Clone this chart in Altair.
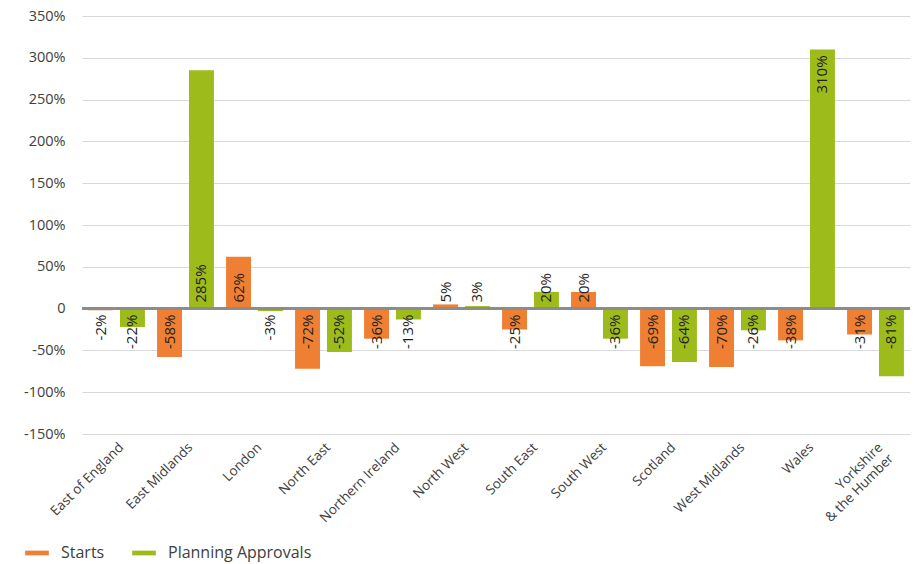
import altair as alt
import pandas as pd

regions = ["East of England", "East Midlands", "London", "North East", "Northern Ireland",
           "North West", "South East", "South West", "Scotland", "West Midlands", "Wales",
           "Yorkshire & the Humber"]
starts = [-2, -58, 62, -72, -36, 5, -25, 20, -69, -70, -38, -31]
approvals = [-22, 285, -3, -52, -13, 3, 20, -36, -64, -26, 310, -81]
series_names = ["Starts", "Planning Approvals"]
colors = ["#ee7f33", "#9dbb1a"]
y_ticks = [-150, -100, -50, 0, 50, 100, 150, 200, 250, 300, 350]

rows = []
for r, s, a in zip(regions, starts, approvals):
    rows.append({"region": r, "series": "Starts", "value": s})
    rows.append({"region": r, "series": "Planning Approvals", "value": a})
df = pd.DataFrame(rows)
df["label"] = df["value"].astype(int).astype(str) + "%"

FONT = "Open Sans"

x_enc = alt.X("region:N", sort=regions, title=None,
              scale=alt.Scale(paddingInner=0, paddingOuter=0),
              axis=alt.Axis(labelAngle=-45, labelAlign="right", labelBaseline="top",
                            labelPadding=6, ticks=False, domain=False, grid=False,
                            labelFontSize=13.5, labelColor="#404040", labelFont=FONT,
                            labelExpr="datum.label == 'Yorkshire & the Humber' ? ['Yorkshire', '& the Humber'] : datum.label"))
xoff = alt.XOffset("series:N", sort=series_names,
                   scale=alt.Scale(paddingInner=0.22, paddingOuter=0.19))
y_scale = alt.Scale(domain=[-150, 350], nice=False, zero=False)

base = alt.Chart(df)

bars = base.mark_bar().encode(
    x=x_enc,
    xOffset=xoff,
    y=alt.Y("value:Q", scale=y_scale, title=None,
            axis=alt.Axis(values=y_ticks, grid=True, gridColor="#d9d9d9", gridWidth=1,
                          ticks=False, domain=False, labelPadding=17,
                          labelFontSize=14.5, labelColor="#404040", labelFont=FONT,
                          labelExpr="datum.value == 0 ? '0' : datum.value + '%'")),
    color=alt.Color("series:N", sort=series_names,
                    scale=alt.Scale(domain=series_names, range=colors),
                    legend=alt.Legend(title=None, orient="none", direction="horizontal",
                                      legendX=-57, legendY=525,
                                      symbolType="M-1,-0.2L1,-0.2L1,0.2L-1,0.2Z",
                                      symbolSize=560, symbolStrokeWidth=0,
                                      labelFontSize=16, labelFont=FONT, labelColor="#404040",
                                      labelOffset=12, columnPadding=27)),
)

zero = base.mark_rule(color="#8c8c8c", strokeWidth=2.5).encode(y=alt.datum(0))

lab_common = dict(angle=270, baseline="middle", fontSize=15, font=FONT, color="#1f1f1f")

lab_pos = base.transform_filter("datum.value >= 0 && datum.value < 300").mark_text(
    align="left", dx=6, **lab_common).encode(
    x=alt.X("region:N", sort=regions), xOffset=xoff, y=alt.datum(0), text="label:N")

lab_neg = base.transform_filter("datum.value < 0").mark_text(
    align="right", dx=-6, **lab_common).encode(
    x=alt.X("region:N", sort=regions), xOffset=xoff, y=alt.datum(0), text="label:N")

lab_top = base.transform_filter("datum.value >= 300").mark_text(
    align="right", dx=-6, **lab_common).encode(
    x=alt.X("region:N", sort=regions), xOffset=xoff, y=alt.Y("value:Q"), text="label:N")

chart = alt.layer(bars, zero, lab_pos, lab_neg, lab_top).properties(
    width=828, height=418,
    background="white",
    autosize=alt.AutoSizeParams(type="none"),
    padding={"left": 82, "top": 16, "right": 10, "bottom": 130},
).configure_view(stroke="transparent", strokeWidth=0).configure_axis(
    domain=False, ticks=False)

chart.save("out.html", embed_options={"renderer": "svg", "actions": False})
